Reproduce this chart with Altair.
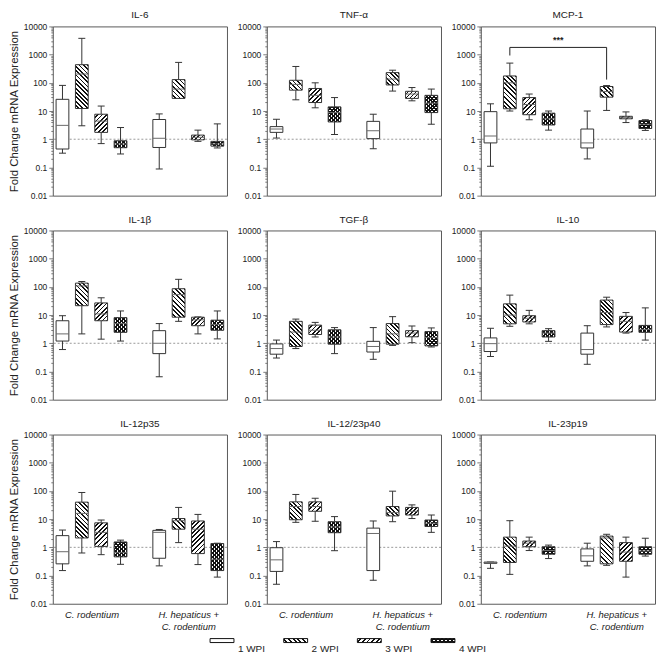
import math
import altair as alt
import pandas as pd

FONT = "Liberation Sans"
PANELS = ["IL-6", "TNF-α", "MCP-1", "IL-1β", "TGF-β", "IL-10",
          "IL-12p35", "IL-12/23p40", "IL-23p19"]
WEEKS = ["1 WPI", "2 WPI", "3 WPI", "4 WPI"]
GROUPS = ["C. rodentium", "H. hepaticus +\nC. rodentium"]
Y_TICK_LABELS = ["0.01", "0.1", "1", "10", "100", "1000", "10000"]
Y_TITLE = "Fold Change mRNA Expression"
REF_LEVEL = [1]

# box order: C. rodentium 1-4 WPI, then H. hepaticus + C. rodentium 1-4 WPI
IL6_MIN = [0.32, 3.0, 0.7, 0.3, 0.088, 28, 0.84, 0.49]
IL6_Q1 = [0.45, 12.3, 1.75, 0.5, 0.51, 28, 0.95, 0.57]
IL6_MED = [3.1, 205, 4.4, 0.68, 1.08, 60, 1.17, 0.68]
IL6_Q3 = [26, 440, 7.7, 0.88, 5, 130, 1.4, 0.84]
IL6_MAX = [81, 3780, 15, 2.6, 7.9, 530, 2.1, 3.5]

TNF_MIN = [1.1, 25, 13, 1.47, 0.46, 51, 23, 3.4]
TNF_Q1 = [1.75, 55, 20, 4.1, 1.05, 84, 28, 8.8]
TNF_MED = [2.3, 88, 36, 8.8, 2.0, 136, 40, 19]
TNF_Q3 = [2.8, 123, 63, 14, 4.3, 230, 50, 36]
TNF_MAX = [5.1, 380, 100, 30, 7.7, 280, 68, 60]

MCP1_MIN = [0.11, 10, 4.9, 2.1, 0.2, 10.5, 3.9, 2.05]
MCP1_Q1 = [0.74, 12, 7.4, 3.2, 0.49, 31, 5.3, 2.4]
MCP1_MED = [1.3, 100, 17, 5.3, 0.74, 49, 5.8, 3.4]
MCP1_Q3 = [9.5, 175, 30, 8.4, 2.3, 74, 6.5, 4.6]
MCP1_MAX = [18, 500, 40, 10, 10, 80, 9.3, 4.9]

IL1B_MIN = [0.6, 2.15, 1.4, 1.2, 0.065, 6, 2.15, 1.43]
IL1B_Q1 = [1.2, 21.5, 6.3, 2.45, 0.43, 8.4, 4.2, 2.9]
IL1B_MED = [2.15, 108, 11, 5, 1.0, 53, 6.8, 4.6]
IL1B_Q3 = [6.3, 136, 27, 8.1, 2.8, 86, 8.4, 6.6]
IL1B_MAX = [9.5, 155, 41, 14, 5, 185, 8.6, 14]

TGFB_MIN = [0.3, 0.65, 1.67, 0.43, 0.27, 0.84, 1.05, 0.74]
TGFB_Q1 = [0.41, 0.77, 2.05, 0.93, 0.49, 0.93, 1.7, 0.81]
TGFB_MED = [0.65, 2.5, 2.9, 1.67, 0.77, 2.15, 2.3, 1.6]
TGFB_Q3 = [0.95, 6, 4.4, 3.0, 1.17, 5, 2.8, 2.6]
TGFB_MAX = [1.3, 7.2, 5.5, 3.6, 3.6, 8.8, 4.1, 3.5]

IL10_MIN = [0.34, 4.0, 4.9, 1.17, 0.18, 3.8, 2.3, 1.3]
IL10_Q1 = [0.51, 4.9, 5.7, 1.67, 0.41, 4.6, 2.5, 2.45]
IL10_MED = [0.97, 10, 7.7, 2.3, 0.6, 12.3, 6, 3.1]
IL10_Q3 = [1.55, 25, 9.5, 2.8, 2.3, 34, 9, 4.3]
IL10_MAX = [3.4, 51, 14.7, 3.3, 4.2, 43, 12.3, 18]

IL12P35_MIN = [0.15, 0.63, 0.55, 0.25, 0.22, 1.47, 0.245, 0.088]
IL12P35_Q1 = [0.26, 2.15, 1.08, 0.46, 0.41, 4.4, 0.6, 0.15]
IL12P35_MED = [0.7, 16, 3.4, 0.65, 3.4, 8.8, 4.4, 0.38]
IL12P35_Q3 = [2.6, 40, 7.4, 1.55, 4.0, 10.5, 8.6, 1.36]
IL12P35_MAX = [4.1, 88, 9.3, 1.8, 4.3, 26, 14.7, 1.4]

P40_MIN = [0.049, 7.7, 8.4, 0.76, 0.068, 8.1, 10.5, 3.4]
P40_Q1 = [0.14, 9.5, 19, 3.3, 0.15, 13, 14, 5.5]
P40_MED = [0.36, 28, 28, 5.3, 3.1, 17, 19, 7.2]
P40_Q3 = [0.97, 41, 41, 8.1, 4.8, 28, 26, 9.3]
P40_MAX = [1.6, 75, 55, 12.3, 8.6, 98, 32, 14]

P19_MIN = [0.18, 0.11, 0.77, 0.4, 0.22, 0.23, 0.088, 0.49]
P19_Q1 = [0.27, 0.29, 1.05, 0.57, 0.32, 0.26, 0.32, 0.57]
P19_MED = [0.28, 1.1, 1.4, 0.77, 0.5, 2.15, 0.68, 0.74]
P19_Q3 = [0.3, 2.3, 1.67, 1.05, 0.88, 2.5, 1.47, 1.05]
P19_MAX = [0.3, 8.8, 2.3, 1.2, 1.4, 2.9, 2.3, 2.1]

# significance bracket (MCP-1): C. rodentium 2 WPI vs H. hepaticus + C. rodentium 2 WPI
SIG_PANEL = "MCP-1"
SIG_BOXES = [1, 5]
SIG_LEVEL = 1800
SIG_ENDS = [930, 130]
SIG_LABEL = "***"

STATS = {
    "IL-6": (IL6_MIN, IL6_Q1, IL6_MED, IL6_Q3, IL6_MAX),
    "TNF-α": (TNF_MIN, TNF_Q1, TNF_MED, TNF_Q3, TNF_MAX),
    "MCP-1": (MCP1_MIN, MCP1_Q1, MCP1_MED, MCP1_Q3, MCP1_MAX),
    "IL-1β": (IL1B_MIN, IL1B_Q1, IL1B_MED, IL1B_Q3, IL1B_MAX),
    "TGF-β": (TGFB_MIN, TGFB_Q1, TGFB_MED, TGFB_Q3, TGFB_MAX),
    "IL-10": (IL10_MIN, IL10_Q1, IL10_MED, IL10_Q3, IL10_MAX),
    "IL-12p35": (IL12P35_MIN, IL12P35_Q1, IL12P35_MED, IL12P35_Q3, IL12P35_MAX),
    "IL-12/23p40": (P40_MIN, P40_Q1, P40_MED, P40_Q3, P40_MAX),
    "IL-23p19": (P19_MIN, P19_Q1, P19_MED, P19_Q3, P19_MAX),
}

# ---------------- layout / style ----------------
W, H = 175, 170
NSLOT = 9
HALF = 0.33
CAP = 0.18
LINE = "#333333"
MED = "#6a6a6a"
FRAME = "#5a5a5a"
DECADES = math.log10(10000) - math.log10(0.01)

MAJORS = [float(v) for v in Y_TICK_LABELS]
Y_TICKS = []
for mj in MAJORS[:-1]:
    Y_TICKS += [float(f"{m}e{int(round(math.log10(mj)))}") for m in range(1, 10)]
Y_TICKS.append(MAJORS[-1])

MAJOR_TEST = "abs(log(datum.value)/LN10 - round(log(datum.value)/LN10)) < 0.001"

xs = alt.Scale(domain=[0.5, NSLOT + 0.5], nice=False, zero=False)
ys = alt.Scale(type="log", domain=[MAJORS[0], MAJORS[-1]], nice=False)


def hatch(w, h, direction, period=4.4, dark=0.36, bg="white", fg="#111111"):
    n = max(1, int(round((w + h) / period)))
    stops = []
    for k in range(n):
        a = round(k / n, 5)
        b = round((k + 1 - dark) / n, 5)
        c = round((k + 1) / n, 5)
        stops += [{"offset": a, "color": bg}, {"offset": b, "color": bg},
                  {"offset": b, "color": fg}, {"offset": c, "color": fg}]
    t = (w + h) / (w * w + h * h)
    if direction == "back":
        x1, y1, x2, y2 = 0, 1, w * t, 1 - h * t
    else:
        x1, y1, x2, y2 = 0, 0, w * t, h * t
    return {"gradient": "linear", "x1": round(x1, 5), "y1": round(y1, 5),
            "x2": round(x2, 5), "y2": round(y2, 5), "stops": stops}


def patterns(week_idx, w, h):
    if week_idx == 1:
        return [hatch(w, h, "back", dark=0.4)]
    if week_idx == 2:
        return [hatch(w, h, "fwd", dark=0.4)]
    if week_idx == 3:
        return [hatch(w, h, "back", period=4.0, dark=0.5),
                hatch(w, h, "fwd", period=4.0, dark=0.5, bg="rgba(255,255,255,0)")]
    return []


def y_axis(show_title):
    return alt.Axis(values=Y_TICKS,
                    labelExpr=f"{MAJOR_TEST} ? format(datum.value, '~g') : ''",
                    tickSize={"condition": {"test": MAJOR_TEST, "value": 4}, "value": 2},
                    tickColor=FRAME, tickWidth=0.8, domain=False, grid=False,
                    labelOverlap=False, labelFontSize=8.5, labelColor="#222",
                    labelPadding=2, minExtent=30, maxExtent=30,
                    title=Y_TITLE if show_title else None,
                    titleFontSize=11.5, titleFontWeight="normal", titleColor="#222",
                    titlePadding=3)


def x_axis(bottom):
    if not bottom:
        return None
    parts = []
    for g in GROUPS:
        lines = ", ".join("'" + s + "'" for s in g.split("\n"))
        parts.append("[" + lines + "]")
    expr = f"datum.value < {NSLOT / 2 + 0.5} ? {parts[0]} : {parts[1]}"
    centers = [2.5, 7.5]
    return alt.Axis(values=centers, labelExpr=expr, ticks=False, domain=False,
                    grid=False, title=None, labelFontStyle="italic",
                    labelFontSize=9.5, labelColor="#222", labelPadding=11,
                    labelBaseline="middle", labelFlush=False, labelOverlap=False)


def panel(name, col, row):
    mn, q1, md, q3, mx = STATS[name]
    idx = list(range(8))
    df = pd.DataFrame({
        "idx": idx,
        "slot": [(i // 4) * 5 + (i % 4) + 1 for i in idx],
        "week": [WEEKS[i % 4] for i in idx],
        "lo": mn, "q1": q1, "med": md, "q3": q3, "hi": mx,
    })
    xa = x_axis(row == 2)
    ya = y_axis(col == 0)

    def X(f):
        return alt.X(f, type="quantitative", scale=xs, axis=xa)

    def Y(f):
        return alt.Y(f, type="quantitative", scale=ys, axis=ya)

    base = alt.Chart(df)
    boxed = base.transform_calculate(ba=f"datum.slot - {HALF}", bb=f"datum.slot + {HALF}")
    capped = base.transform_calculate(ca=f"datum.slot - {CAP}", cb=f"datum.slot + {CAP}")

    layers = []
    layers.append(alt.Chart(pd.DataFrame({"ref": REF_LEVEL})).mark_rule(
        color="#808080", strokeDash=[2, 2], strokeWidth=0.8).encode(y=Y("ref")))
    layers.append(base.mark_rule(color=LINE, strokeWidth=1).encode(
        x=X("slot"), y=Y("lo"), y2="hi"))
    layers.append(capped.mark_rule(color=LINE, strokeWidth=1).encode(
        x=X("ca"), x2="cb", y=Y("lo")))
    layers.append(capped.mark_rule(color=LINE, strokeWidth=1).encode(
        x=X("ca"), x2="cb", y=Y("hi")))
    layers.append(boxed.mark_rect(color="white").encode(
        x=X("ba"), x2="bb", y=Y("q1"), y2="q3"))
    wpx = 2 * HALF * W / NSLOT
    for i in idx:
        hpx = (math.log10(q3[i]) - math.log10(q1[i])) * H / DECADES
        if hpx < 0.8:
            continue
        for g in patterns(i % 4, wpx, hpx):
            layers.append(boxed.transform_filter(f"datum.idx == {i}").mark_rect(
                fill=g, strokeOpacity=0).encode(x=X("ba"), x2="bb", y=Y("q1"), y2="q3"))
    layers.append(boxed.mark_rect(fill="white", fillOpacity=0, stroke=LINE,
                                  strokeWidth=1).encode(
        x=X("ba"), x2="bb", y=Y("q1"), y2="q3"))
    layers.append(boxed.mark_rule(color=MED, strokeWidth=1).encode(
        x=X("ba"), x2="bb", y=Y("med")))

    if name == SIG_PANEL:
        sx = [df["slot"][SIG_BOXES[0]], df["slot"][SIG_BOXES[1]]]
        sig = pd.DataFrame({"xa": sx, "ya": SIG_ENDS, "yb": [SIG_LEVEL, SIG_LEVEL]})
        layers.append(alt.Chart(sig).mark_rule(color="#222", strokeWidth=1).encode(
            x=X("xa"), y=Y("ya"), y2="yb"))
        hz = pd.DataFrame({"xa": [sx[0]], "xb": [sx[1]], "y": [SIG_LEVEL],
                           "lab": [SIG_LABEL], "xm": [(sx[0] + sx[1]) / 2]})
        layers.append(alt.Chart(hz).mark_rule(color="#222", strokeWidth=1).encode(
            x=X("xa"), x2="xb", y=Y("y")))
        layers.append(alt.Chart(hz).mark_text(fontSize=9, fontWeight="bold",
                                              baseline="bottom", dy=-2, color="#222").encode(
            x=X("xm"), y=Y("y"), text="lab:N"))

    return alt.layer(*layers).properties(
        width=W, height=H,
        title=alt.TitleParams(name, fontSize=10, fontWeight="normal", color="#222",
                              offset=2, anchor="middle"))


rows = []
for r in range(3):
    rows.append(alt.hconcat(*[panel(PANELS[r * 3 + c], c, r) for c in range(3)], spacing=8))
grid = alt.vconcat(*rows, spacing=13)

# ---------------- legend ----------------
leg = pd.DataFrame({"i": list(range(4)), "week": WEEKS})
lx = alt.Scale(domain=[0, 3], range=[158, 380])
SW = 24 / 74.0
lbase = alt.Chart(leg).transform_calculate(xb=f"datum.i + {SW}")
llayers = [lbase.mark_rect(color="white").encode(
    x=alt.X("i:Q", scale=lx, axis=None), x2="xb:Q", y=alt.value(1), y2=alt.value(5))]
for k in range(4):
    for g in patterns(k, 24, 4):
        llayers.append(lbase.transform_filter(f"datum.i == {k}").mark_rect(
            fill=g, strokeOpacity=0).encode(
            x=alt.X("i:Q", scale=lx, axis=None), x2="xb:Q", y=alt.value(1), y2=alt.value(5)))
llayers.append(lbase.mark_rect(fill="white", fillOpacity=0, stroke="#111",
                               strokeWidth=1).encode(
    x=alt.X("i:Q", scale=lx, axis=None), x2="xb:Q", y=alt.value(1), y2=alt.value(5)))
llayers.append(lbase.mark_text(align="left", baseline="alphabetic", dx=28,
                               fontSize=10, color="#222").encode(
    x=alt.X("i:Q", scale=lx, axis=None), y=alt.value(14), text="week:N"))
legend = alt.layer(*llayers).properties(width=600, height=16,
                                        view=alt.ViewBackground(stroke="transparent"))

chart = alt.vconcat(grid, legend, spacing=5).properties(padding=0).configure(
    font=FONT).configure_view(stroke=FRAME, strokeWidth=1)

chart.save("out.html", embed_options={"renderer": "svg", "actions": False})
